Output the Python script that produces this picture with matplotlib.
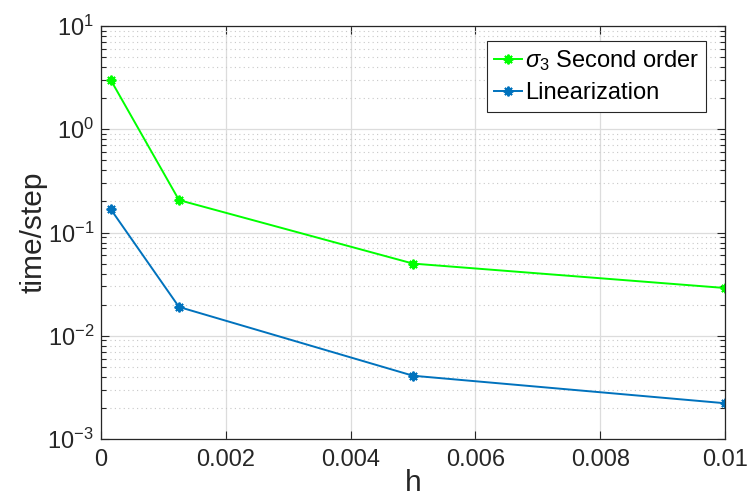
import matplotlib
matplotlib.use("Agg")
import matplotlib.pyplot as plt
from matplotlib.ticker import LogLocator, FixedLocator, FixedFormatter, NullFormatter

plt.rcParams['font.family'] = ['Liberation Sans', 'DejaVu Sans']
plt.rcParams['mathtext.fontset'] = 'custom'
plt.rcParams['mathtext.rm'] = 'Liberation Sans'
plt.rcParams['mathtext.it'] = 'Liberation Sans:italic'
plt.rcParams['mathtext.default'] = 'regular'

h = [1 / 6400, 1 / 800, 1 / 200, 1 / 100]
second_order = [3.0, 0.206, 0.050, 0.029]
linearization = [0.168, 0.019, 0.0041, 0.00222]
x_ticks = [0, 0.002, 0.004, 0.006, 0.008, 0.01]
x_tick_labels = ['0', '0.002', '0.004', '0.006', '0.008', '0.01']
y_ticks = [1e-3, 1e-2, 1e-1, 1e0, 1e1]
y_tick_labels = [r'$10^{-3}$', r'$10^{-2}$', r'$10^{-1}$', r'$10^{0}$', r'$10^{1}$']

dark = '#262626'
fig = plt.figure(figsize=(7.48, 4.97), dpi=100)
ax = fig.add_axes([101 / 748, 1 - 439 / 497, 624 / 748, 413 / 497])

star = (8, 2, 0)
ax.plot(h, second_order, color='#00FF00', lw=1.4, marker=star, ms=7, mew=1.4,
        label=r'$\mathit{\sigma}_{3}$ Second order')
ax.plot(h, linearization, color='#0072BD', lw=1.4, marker=star, ms=7, mew=1.4,
        label='Linearization')

ax.set_yscale('log')
ax.set_xlim(0, 0.01)
ax.set_ylim(1e-3, 1e1)
ax.xaxis.set_major_locator(FixedLocator(x_ticks))
ax.xaxis.set_major_formatter(FixedFormatter(x_tick_labels))
ax.yaxis.set_major_locator(FixedLocator(y_ticks))
ax.yaxis.set_major_formatter(FixedFormatter(y_tick_labels))
ax.yaxis.set_minor_locator(LogLocator(base=10, subs=range(2, 10), numticks=20))
ax.yaxis.set_minor_formatter(NullFormatter())

ax.grid(True, which='major', color='#dcdcdc', lw=0.9, ls='-')
ax.grid(True, which='minor', axis='y', color='#c8c8c8', lw=0.8, ls=(0, (1, 3)))
ax.set_axisbelow(True)

ax.tick_params(which='both', direction='in', top=True, right=True, colors=dark,
               labelsize=17, width=0.8)
ax.tick_params(which='major', length=6)
ax.tick_params(which='minor', length=3.5)
ax.tick_params(axis='x', pad=7)
ax.tick_params(axis='y', pad=5)
for s in ax.spines.values():
    s.set_color(dark)
    s.set_linewidth(0.9)

ax.set_xlabel('h', fontsize=21.5, color=dark, labelpad=-1)
ax.set_ylabel('time/step', fontsize=21.5, color=dark, labelpad=0)

leg = ax.legend(loc='upper right', bbox_to_anchor=(0.9696, 0.9637), fontsize=17,
                fancybox=False, framealpha=1, edgecolor=dark, handlelength=1.2,
                handletextpad=0.1, borderpad=0.3, labelspacing=0.4,
                borderaxespad=0)
leg.get_frame().set_linewidth(0.8)

fig.savefig('out.png', dpi=100)
